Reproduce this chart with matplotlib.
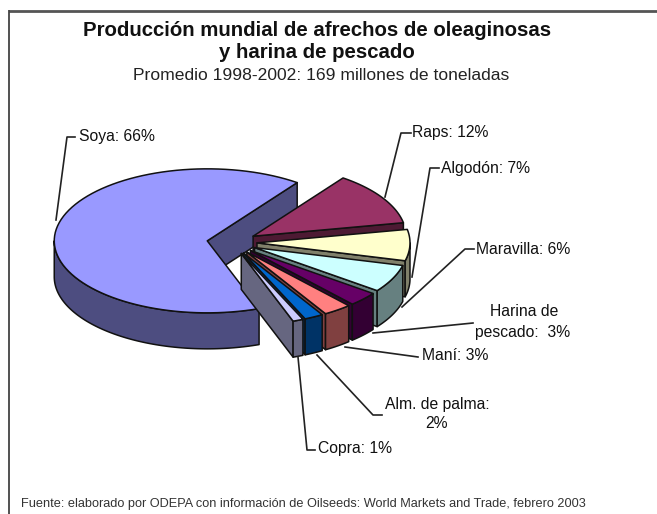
"""3D-looking exploded pie of world oilseed meal and fish meal production."""

import numpy as np
import matplotlib
matplotlib.use("Agg")
import matplotlib.pyplot as plt

# clockwise from the top-right edge of Soya
names = ["Raps", "Algodón", "Maravilla", "Harina de pescado", "Maní",
         "Alm. de palma", "Copra", "Soya"]
shares = [12, 7, 6.2, 3.2, 3, 2, 1.1, 65.5]
top_colors = ["#993366", "#FFFFCC", "#CCFFFF", "#660066", "#FF8080",
              "#0066CC", "#CCCCFF", "#9999FF"]
side_colors = ["#4D1A33", "#80806A", "#668080", "#330033", "#804040",
               "#003366", "#666680", "#4D4D80"]

title_lines = ["Producción mundial de afrechos de oleaginosas", "y harina de pescado"]
subtitle = "Promedio 1998-2002: 169 millones de toneladas"
source = "Fuente: elaborado por ODEPA con información de Oilseeds: World Markets and Trade, febrero 2003"

# pie geometry in image pixels
CX, CY = 232, 242.5
RX, RY = 153, 72
DEPTH = 36
EXPLODE = 25
START = 54

plt.rcParams["font.family"] = ["Liberation Sans", "DejaVu Sans"]

fig = plt.figure(figsize=(6.57, 5.14), dpi=100)
ax = fig.add_axes([0, 0, 1, 1])
ax.set_xlim(0, 657)
ax.set_ylim(514, 0)
ax.axis("off")


def arc(ox, oy, a1, a2, drop=0):
    t = np.radians(np.linspace(a1, a2, 90))
    return ox + RX * np.cos(t), oy - RY * np.sin(t) + drop


def draw_slice(a1, a2, top, side):
    mid = np.radians((a1 + a2) / 2)
    ox = CX + EXPLODE * np.cos(mid)
    oy = CY - EXPLODE * np.sin(mid) * RY / RX
    style = dict(edgecolor="#111111", linewidth=1.1, joinstyle="round")

    # cut face on the clockwise end
    if np.cos(np.radians(a2)) > 0:
        ex, ey = arc(ox, oy, a2, a2)
        ax.fill([ox, ex[0], ex[0], ox], [oy, ey[0], ey[0] + DEPTH, oy + DEPTH],
                facecolor=side, **style)
    # outer wall, only the front half shows
    hi, lo = min(a1, 0), max(a2, -180)
    if hi > lo:
        wx, wy = arc(ox, oy, hi, lo)
        ax.fill(np.r_[wx, wx[::-1]], np.r_[wy, wy[::-1] + DEPTH],
                facecolor=side, **style)
    tx, ty = arc(ox, oy, a1, a2)
    ax.fill(np.r_[ox, tx], np.r_[oy, ty], facecolor=top, **style)


spans = np.array(shares) * 3.6
ends = START - np.cumsum(spans)
starts = ends + spans
for i in [7, 0, 1, 2, 3, 4, 5, 6]:
    draw_slice(starts[i], ends[i], top_colors[i], side_colors[i])

# leader lines
leaders = [
    ([75, 67, 56], [137, 137, 220]),
    ([411, 401, 385], [133, 133, 197]),
    ([439, 430, 412], [168, 168, 277]),
    ([474, 465, 402], [249, 249, 307]),
    ([473, 373], [323, 333]),
    ([418, 345], [357, 347]),
    ([382, 373, 317], [415, 415, 355]),
    ([315, 307, 298], [450, 450, 357]),
]
for xs, ys in leaders:
    ax.plot(xs, ys, color="#222222", lw=1.2)

label_size = 11.3
tk = dict(fontsize=label_size, color="#111111", va="center")
ax.text(79, 137, "Soya: 66%", ha="left", **tk)
ax.text(412, 133, "Raps: 12%", ha="left", **tk)
ax.text(441, 168, "Algodón: 7%", ha="left", **tk)
ax.text(476, 250, "Maravilla: 6%", ha="left", **tk)
ax.text(524, 312, "Harina de", ha="center", **tk)
ax.text(523, 332, "pescado:  3%", ha="center", **tk)
ax.text(422, 356, "Maní: 3%", ha="left", **tk)
ax.text(437, 404, "Alm. de palma:", ha="center", **tk)
ax.text(437, 424, "2%", ha="center", **tk)
ax.text(318, 449, "Copra: 1%", ha="left", **tk)

ax.text(317, 30, title_lines[0], ha="center", va="center", fontsize=14.7, fontweight="bold", color="#111111")
ax.text(317, 52, title_lines[1], ha="center", va="center", fontsize=14.7, fontweight="bold", color="#111111")
ax.text(321, 76, subtitle, ha="center", va="center", fontsize=12.6, color="#222222")
ax.text(21, 504, source, ha="left", va="center", fontsize=9.2, color="#333333")

# chart frame, only top and left are inside the crop
ax.plot([9, 657], [11, 11], color="#555555", lw=2, solid_capstyle="butt")
ax.plot([9, 9], [10, 514], color="#333333", lw=1.2, solid_capstyle="butt")

fig.savefig("out.png", dpi=100)
